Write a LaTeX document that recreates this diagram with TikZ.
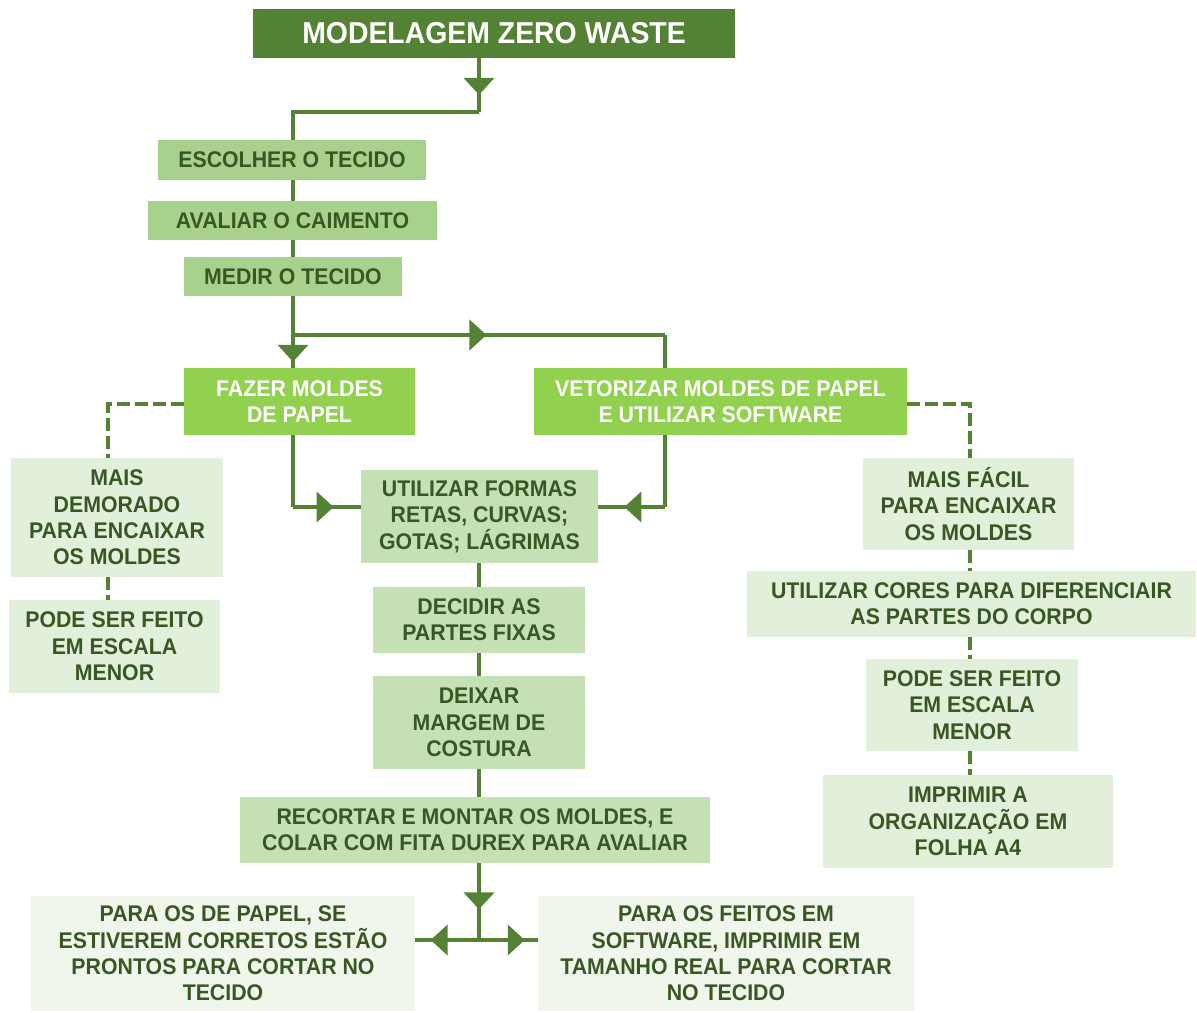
\documentclass[tikz,border=0pt]{standalone}
\usepackage{fontspec}
\setmainfont{Liberation Sans}[FakeStretch=0.94]
\usepackage{xcolor}
\usepackage{tikz}
\usetikzlibrary{arrows.meta}
\usetikzlibrary{decorations.markings}
\definecolor{darkgreen}{HTML}{548235}
\definecolor{textgreen}{HTML}{385723}
\definecolor{stepgreen}{HTML}{A9D18E}
\definecolor{brightgreen}{HTML}{92D050}
\definecolor{midgreen}{HTML}{C5E0B4}
\definecolor{palegreen}{HTML}{E2EFDA}
\definecolor{faintgreen}{HTML}{F0F6EC}

\begin{document}
\begin{tikzpicture}[x=0.02cm,y=-0.02cm,
  boxnode/.style={fill=#1,inner sep=0pt,align=center,text=textgreen,font=\fontsize{12.9}{15}\selectfont\bfseries},
  flow/.style={draw=darkgreen,color=darkgreen,line width=0.085cm},
  dashflow/.style={draw=darkgreen,line width=0.08cm,dash pattern=on 0.26cm off 0.1cm},
  midarrow/.style={postaction={decorate,decoration={markings,mark=at position #1 with {\arrow{Triangle[length=0.34cm,width=0.6cm]}}}}}]
  %\draw[help lines] (0,0) grid[step=50] (1197,1012);
  \useasboundingbox (0,0) rectangle (1197,1012);

  \draw (494,33.5) node[boxnode=darkgreen,text=white,font=\fontsize{17.2}{20}\selectfont\bfseries,minimum width=9.64cm,minimum height=0.98cm](title) {MODELAGEM ZERO WASTE};

  \draw (292,160)   node[boxnode=stepgreen,minimum width=5.36cm,minimum height=0.8cm](escolher) {ESCOLHER O TECIDO};
  \draw (292.5,220.5) node[boxnode=stepgreen,minimum width=5.78cm,minimum height=0.78cm](avaliar) {AVALIAR O CAIMENTO};
  \draw (293,276.5) node[boxnode=stepgreen,minimum width=4.36cm,minimum height=0.78cm](medir) {MEDIR O TECIDO};

  \draw (299.5,401.5) node[boxnode=brightgreen,text=white,minimum width=4.62cm,minimum height=1.34cm](papel) {FAZER MOLDES\\DE PAPEL};
  \draw (720.5,401.5) node[boxnode=brightgreen,text=white,minimum width=7.46cm,minimum height=1.34cm](vetor) {VETORIZAR MOLDES DE PAPEL\\E UTILIZAR SOFTWARE};

  \draw (479.5,516.5) node[boxnode=midgreen,minimum width=4.74cm,minimum height=1.86cm](formas) {UTILIZAR FORMAS\\RETAS, CURVAS;\\GOTAS; LÁGRIMAS};
  \draw (479,620)     node[boxnode=midgreen,minimum width=4.24cm,minimum height=1.32cm](fixas) {DECIDIR AS\\PARTES FIXAS};
  \draw (479,722.5)   node[boxnode=midgreen,minimum width=4.24cm,minimum height=1.86cm](margem) {DEIXAR\\MARGEM DE\\COSTURA};
  \draw (475,830)     node[boxnode=midgreen,minimum width=9.4cm,minimum height=1.32cm](recortar) {RECORTAR E MONTAR OS MOLDES, E\\COLAR COM FITA DUREX PARA AVALIAR};

  \draw (223,953.5) node[boxnode=faintgreen,minimum width=7.68cm,minimum height=2.3cm](cortepapel) {PARA OS DE PAPEL, SE\\ESTIVEREM CORRETOS ESTÃO\\PRONTOS PARA CORTAR NO\\TECIDO};
  \draw (726,953.5) node[boxnode=faintgreen,minimum width=7.52cm,minimum height=2.3cm](cortesoft) {PARA OS FEITOS EM\\SOFTWARE, IMPRIMIR EM\\TAMANHO REAL PARA CORTAR\\NO TECIDO};

  \draw (117,517.5)   node[boxnode=palegreen,minimum width=4.24cm,minimum height=2.38cm](demorado) {MAIS\\DEMORADO\\PARA ENCAIXAR\\OS MOLDES};
  \draw (114.5,646.5) node[boxnode=palegreen,minimum width=4.22cm,minimum height=1.86cm](escalaA) {PODE SER FEITO\\EM ESCALA\\MENOR};

  \draw (968.5,504)   node[boxnode=palegreen,minimum width=4.22cm,minimum height=1.84cm](facil) {MAIS FÁCIL\\PARA ENCAIXAR\\OS MOLDES};
  \draw (971.5,604)   node[boxnode=palegreen,minimum width=8.98cm,minimum height=1.32cm](cores) {UTILIZAR CORES PARA DIFERENCIAIR\\AS PARTES DO CORPO};
  \draw (972,705)     node[boxnode=palegreen,minimum width=4.24cm,minimum height=1.84cm](escalaB) {PODE SER FEITO\\EM ESCALA\\MENOR};
  \draw (968,821.5)   node[boxnode=palegreen,minimum width=5.8cm,minimum height=1.86cm](imprimir) {IMPRIMIR A\\ORGANIZAÇÃO EM\\FOLHA A4};

  \coordinate (t1) at (479,112);
  \coordinate (s1) at (293,335);
  \coordinate (s2) at (665,335);
  \coordinate (f1) at (293,507);
  \coordinate (f2) at (665,507);
  \coordinate (b1) at (479,940);
  \coordinate (dl) at (108,404);
  \coordinate (dr) at (970,404);

  \draw[flow,midarrow=0.68] (title.south -| t1) -- (t1);
  \draw[flow] (t1) -| (escolher.north -| s1);
  \draw[flow] (escolher.south -| s1) -- (avaliar.north -| s1);
  \draw[flow] (avaliar.south -| s1) -- (medir.north -| s1);
  \draw[flow] (medir.south -| s1) -- (s1);
  \draw[flow,midarrow=0.82] (s1) -- (papel.north -| s1);
  \draw[flow,midarrow=0.52] (s1) -- (s2);
  \draw[flow] (s2) -- (vetor.north -| s2);

  \draw[flow] (papel.south -| f1) -- (f1);
  \draw[flow,midarrow=0.6] (f1) -- (f1 -| formas.west);
  \draw[flow] (vetor.south -| f2) -- (f2);
  \draw[flow,midarrow=0.61] (f2) -- (f2 -| formas.east);

  \draw[flow] (formas.south -| t1) -- (fixas.north -| t1);
  \draw[flow] (fixas.south -| t1) -- (margem.north -| t1);
  \draw[flow] (margem.south -| t1) -- (recortar.north -| t1);
  \draw[flow,midarrow=0.6] (recortar.south -| t1) -- (b1);
  \draw[flow,midarrow=0.76] (b1) -- (b1 -| cortepapel.east);
  \draw[flow,midarrow=0.78] (b1) -- (b1 -| cortesoft.west);

  \draw[dashflow] (papel.west |- dl) -- (dl) -- (demorado.north -| dl);
  \draw[dashflow] (demorado.south -| dl) -- (escalaA.north -| dl);
  \draw[dashflow] (vetor.east |- dr) -- (dr) -- (facil.north -| dr);
  \draw[dashflow] (facil.south -| dr) -- (cores.north -| dr);
  \draw[dashflow] (cores.south -| dr) -- (escalaB.north -| dr);
  \draw[dashflow] (escalaB.south -| dr) -- (imprimir.north -| dr);

\end{tikzpicture}
\end{document}
